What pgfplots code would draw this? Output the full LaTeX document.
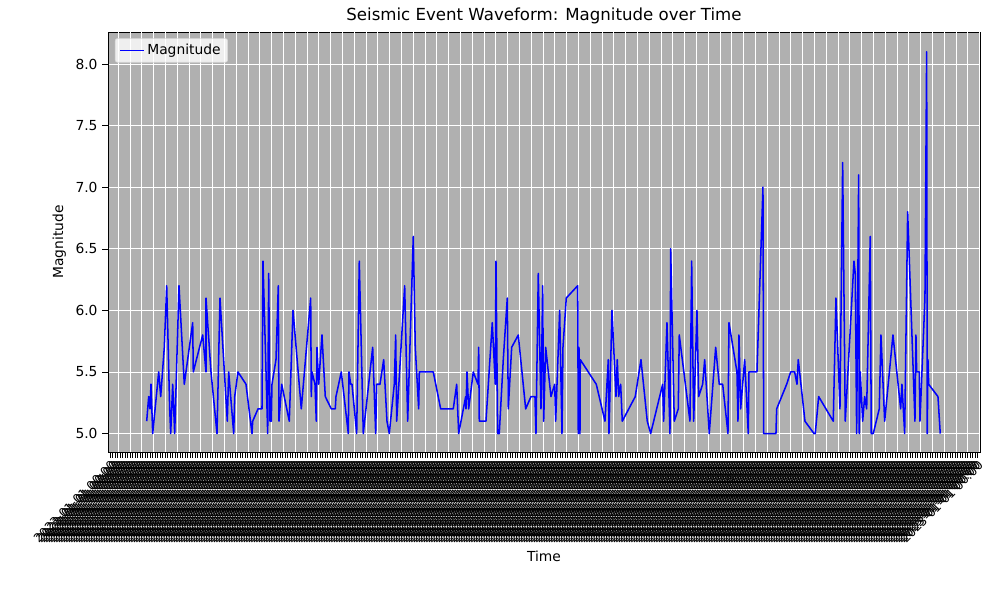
\documentclass[border=0pt]{standalone}
\usepackage{pgfplots}
\pgfplotsset{compat=1.18}
\usepackage{fontspec}
\setmainfont{DejaVu Sans}
\definecolor{gridgray}{HTML}{B0B0B0}
\begin{document}
\begin{tikzpicture}[x=1bp,y=1bp]
\begin{axis}[
  scale only axis, width=627.8bp, height=302.4bp,
  xmin=108, xmax=980, ymin=4.85, ymax=8.26,
  axis background/.style={fill=gridgray},
  ytick={5,5.5,...,8}, yticklabel style={/pgf/number format/fixed,/pgf/number format/fixed zerofill,/pgf/number format/precision=1},
  /pgf/number format/assume math mode=true,
  ymajorgrids, y grid style={white, line width=0.6pt},
  xtick={110,112.5,...,978},
  xticklabel={2023-01-01 00:00},
  xticklabel style={rotate=45, anchor=north east, font=\fontsize{8.8}{9}\selectfont, inner sep=1pt},
  extra x ticks={118.3,130.1,...,980},
  extra x tick labels={},
  extra x tick style={grid=major, major tick length=0pt, x grid style={white, line width=0.7pt}},
  tick style={black}, major tick length=4bp,
  tick align=outside, xtick pos=bottom, ytick pos=left,
  yticklabel style={font=\fontsize{10}{12}\selectfont},
  title={Seismic Event Waveform: Magnitude over Time},
  title style={font=\fontsize{12}{14}\selectfont, yshift=-4bp},
  xlabel={Time}, ylabel={Magnitude},
  label style={font=\fontsize{10}{12}\selectfont},
  xlabel style={yshift=4bp},
  legend style={at={(0.008,0.985)}, anchor=north west, font=\fontsize{10}{12}\selectfont, fill=white, fill opacity=0.8, text opacity=1, draw=gray!30, rounded corners=1.5pt},
  legend cell align=left,
]
\addplot[blue, line width=1.1pt, line join=round] coordinates {
(146.7,5.1)(148.7,5.3)(150,5.2)(151,5.4)(152.7,5.0)(158.7,5.5)(160.7,5.3)(164.3,5.7)(166.7,6.2)(169.7,5.2)(170.7,5.0)(172.7,5.4)(174.7,5.0)(179,6.2)(184.3,5.4)(192.7,5.9)(193.3,5.5)(202.7,5.8)(206,5.5)(206,6.1)(211,5.5)(217,5.0)(220,6.1)(227.3,5.1)(228.7,5.5)(233.7,5.0)(234.7,5.3)(238,5.5)(246,5.4)(252,5.0)(252.7,5.1)(258,5.2)(262,5.2)(263,6.4)(267.7,5.0)(268.7,6.3)(270,5.1)(271.3,5.1)(272,5.4)(276,5.6)(278.3,6.2)(279,5.1)(281.7,5.4)(289.3,5.1)(293,6.0)(301.3,5.2)(310.7,6.1)(311.3,5.3)(312,5.5)(315,5.4)(316.3,5.1)(317,5.7)(318.7,5.4)(322,5.8)(325.3,5.3)(331.3,5.2)(335.3,5.2)(336,5.3)(341.3,5.5)(348.3,5.0)(349,5.5)(350.7,5.4)(352,5.4)(356.7,5.0)(359.3,6.4)(363.3,5.0)(372.7,5.7)(375.7,5.0)(376.7,5.4)(380,5.4)(383.7,5.6)(387,5.1)(389.3,5.0)(394.3,5.4)(395.7,5.8)(396.7,5.1)(404.7,6.2)(407.7,5.1)(413.3,6.6)(415.3,5.7)(418.7,5.2)(419.3,5.5)(433.3,5.5)(440.7,5.2)(453.3,5.2)(456.7,5.4)(458.7,5.0)(465.7,5.3)(466,5.2)(467,5.5)(468.7,5.2)(473.3,5.5)(478,5.4)(478.7,5.7)(479.3,5.1)(486,5.1)(492.3,5.9)(495.3,5.4)(496,6.4)(497.7,5.0)(499.3,5.0)(503.3,5.6)(507.3,6.1)(508.3,5.2)(511.7,5.7)(518.3,5.8)(525.7,5.2)(531,5.3)(535,5.3)
(536,5.0)(538.3,6.3)(541,5.2)(542.7,6.2)(543.7,5.1)(545.7,5.7)(551,5.3)(554.7,5.4)(555.7,5.1)(559.7,6.0)(562,5.0)(563,5.7)(566.3,6.1)(577.7,6.2)(578.3,5.0)(579,5.7)(580,5.0)(580.3,5.6)(596.3,5.4)(605,5.1)(608.3,5.6)(609,5.0)(612,6.0)(616,5.3)(617.3,5.6)(618.7,5.3)(620.7,5.4)(622.3,5.1)(635.3,5.3)(641,5.6)(647.3,5.1)(650.7,5.0)(662.7,5.4)(663.7,5.1)(667,5.9)(670,5.0)(670.7,6.5)(674.3,5.1)(678.3,5.2)(679.3,5.8)(690,5.1)(691.7,6.4)(693.7,5.1)(697,6.0)(698.7,5.3)(702.7,5.4)(704.7,5.6)(709.3,5.0)(715.7,5.7)(719.3,5.4)(722.7,5.4)(728,5.0)(729,5.9)(737,5.5)(738,5.1)(739,5.8)(740.7,5.2)(744.7,5.6)(748.3,5.0)(749,5.5)(757,5.5)(763,7.0)(763.7,5.0)(776,5.0)(776.7,5.2)(786.7,5.4)(790.7,5.5)(794.7,5.5)(797,5.4)(798.3,5.6)(805,5.1)(814,5.0)(815.3,5.0)(818.7,5.3)(833.3,5.1)(836,6.1)(840,5.2)(842.7,7.2)(845.3,5.1)(854,6.4)(855.3,6.3)(856.7,5.0)(858.7,7.1)(859.3,5.0)(860.3,5.5)(862.7,5.1)(864.7,5.3)(866.7,5.2)(870.3,6.6)(871.3,5.0)(873.3,5.0)(879.3,5.2)(881,5.8)(884.7,5.1)(893,5.8)(900.7,5.2)(902,5.4)(904.7,5.0)(907.7,6.8)(915,5.1)(916,5.8)(916.7,5.5)(919.3,5.5)(920,5.1)(925,6.1)(926.7,8.1)(927.3,5.0)(928,5.6)(928.7,5.4)(938,5.3)(940.3,5.0)
};
\addlegendentry{Magnitude}
\end{axis}
\path (current axis.south west) ++(-77.76bp,-99.36bp) rectangle ++(712.08bp,424.8bp);
\end{tikzpicture}
\end{document}
